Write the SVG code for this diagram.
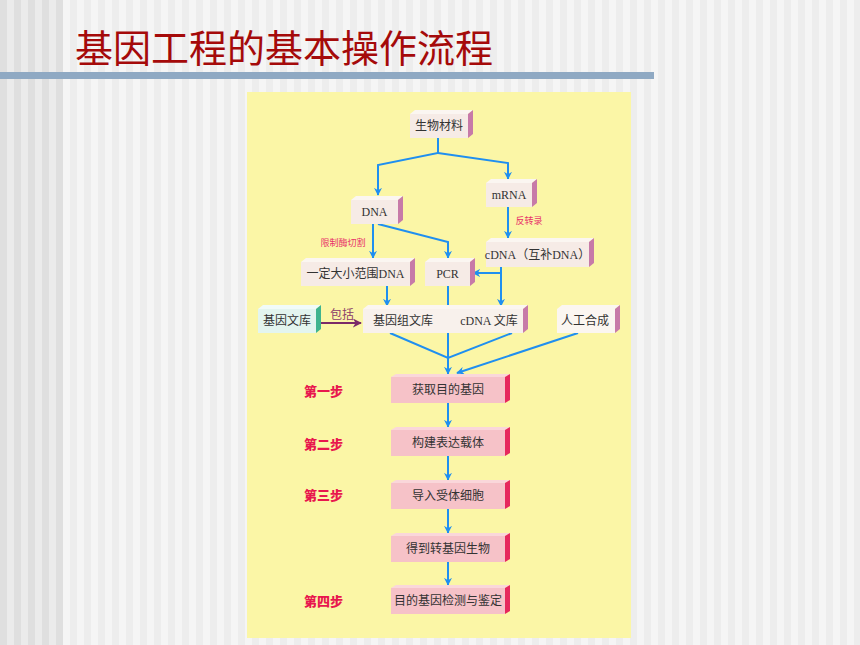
<svg xmlns="http://www.w3.org/2000/svg" width="860" height="645" viewBox="0 0 860 645">
<defs>
<pattern id="stripes" x="0" y="0" width="14" height="10" patternUnits="userSpaceOnUse">
<rect x="0" y="0" width="7" height="10" fill="#ededed"/>
<rect x="7" y="0" width="7" height="10" fill="#f5f5f5"/>
</pattern>
<pattern id="stripesDark" x="0" y="0" width="14" height="10" patternUnits="userSpaceOnUse">
<rect x="0" y="0" width="7" height="10" fill="#dfdfdf"/>
<rect x="7" y="0" width="7" height="10" fill="#ebebeb"/>
</pattern>
<marker id="ab" viewBox="0 0 10 10" refX="9" refY="5" markerWidth="8" markerHeight="9" markerUnits="userSpaceOnUse" orient="auto">
<path d="M0,0 L10,5 L0,10 L3,5 z" fill="#1f8ff0"/>
</marker>
<marker id="ap" viewBox="0 0 10 10" refX="9" refY="5" markerWidth="9" markerHeight="9" markerUnits="userSpaceOnUse" orient="auto">
<path d="M0,0 L10,5 L0,10 L3,5 z" fill="#7a2a68"/>
</marker>
</defs>
<style>
.front{fill:#f6ebe6}
.top{fill:#fbf6f1}
.side{fill:#c77aa8}
.cfront{fill:#e3f5ef}
.ctop{fill:#f1fbf8}
.cside{fill:#3fb48e}
.sfront{fill:#f6c2c8}
.stop{fill:#fad7da}
.sside{fill:#e6285d}
.t{font-family:"Liberation Serif","Noto Sans CJK SC",serif;font-size:12px;fill:#333;text-anchor:middle;dominant-baseline:central}
.step{font-family:"Noto Sans CJK SC",sans-serif;font-size:13px;font-weight:900;fill:#e8174e;dominant-baseline:central}
.lbl{font-family:"Noto Sans CJK SC",sans-serif;font-size:9px;fill:#e8306a;text-anchor:middle;dominant-baseline:central}
.inc{font-family:"Noto Sans CJK SC",sans-serif;font-size:12px;fill:#8b3c6a;dominant-baseline:central}
.c{fill:none;stroke:#1f8ff0;stroke-width:2}
</style>

<rect x="0" y="0" width="860" height="645" fill="url(#stripes)"/>
<rect x="0" y="0" width="63" height="645" fill="url(#stripesDark)"/>
<rect x="0" y="72" width="654" height="7" fill="#8fa9c3"/>
<text x="75" y="62" font-family="Noto Sans CJK SC, sans-serif" font-size="38" fill="#a50a0a">基因工程的基本操作流程</text>

<rect x="247" y="92" width="384" height="546" fill="#fbf6a6"/>

<g id="connectors">
<path class="c" d="M438,138 L438,153 L378,165 L378,195" marker-end="url(#ab)"/>
<path class="c" d="M438,153 L508,163 L508,179" marker-end="url(#ab)"/>
<path class="c" d="M508,207 L508,238" marker-end="url(#ab)"/>
<path class="c" d="M373,224 L373,258" marker-end="url(#ab)"/>
<path class="c" d="M378,224 L448,242 L448,258" marker-end="url(#ab)"/>
<path class="c" d="M501,267 L501,306" marker-end="url(#ab)"/>
<path class="c" d="M501,273 L473,273" marker-end="url(#ab)"/>
<path class="c" d="M387,286 L387,306" marker-end="url(#ab)"/>
<path class="c" d="M448,286 L448,306"/>
<path class="c" d="M448,306 L448,333" stroke-dasharray="2,2"/>
<path class="c" d="M448,333 L448,374" marker-end="url(#ab)"/>
<path class="c" d="M390,333 L448,358 L512,333"/>
<path class="c" d="M578,333 L457,373" marker-end="url(#ab)"/>
<path d="M321,323 L361,323" fill="none" stroke="#7a2a68" stroke-width="2" marker-end="url(#ap)"/>
<path class="c" d="M448,403 L448,427" marker-end="url(#ab)"/>
<path class="c" d="M448,456 L448,480" marker-end="url(#ab)"/>
<path class="c" d="M448,509 L448,533" marker-end="url(#ab)"/>
<path class="c" d="M448,562 L448,585" marker-end="url(#ab)"/>
</g>

<g id="n-shengwu">
<polygon class="top" points="410,114 468,114 473,110 415,110"/>
<rect class="front" x="410" y="114" width="58" height="24"/>
<polygon class="side" points="468,114 473,110 473,134 468,138"/>
<text class="t" x="439" y="126">生物材料</text>
</g>
<g id="n-dna">
<polygon class="top" points="351,200 398,200 403,196 356,196"/>
<rect class="front" x="351" y="200" width="47" height="24"/>
<polygon class="side" points="398,200 403,196 403,220 398,224"/>
<text class="t" x="374.5" y="212">DNA</text>
</g>
<g id="n-mrna">
<polygon class="top" points="486,183 532,183 537,179 491,179"/>
<rect class="front" x="486" y="183" width="46" height="24"/>
<polygon class="side" points="532,183 537,179 537,203 532,207"/>
<text class="t" x="509" y="195">mRNA</text>
</g>
<g id="n-cdna">
<polygon class="top" points="486,242 589,242 594,238 491,238"/>
<rect class="front" x="486" y="242" width="103" height="25"/>
<polygon class="side" points="589,242 594,238 594,263 589,267"/>
<text class="t" x="537.5" y="254.5">cDNA（互补DNA）</text>
</g>
<g id="n-yiding">
<polygon class="top" points="301,262 410,262 415,258 306,258"/>
<rect class="front" x="301" y="262" width="109" height="24"/>
<polygon class="side" points="410,262 415,258 415,282 410,286"/>
<text class="t" x="355.5" y="274">一定大小范围DNA</text>
</g>
<g id="n-pcr">
<polygon class="top" points="425,262 470,262 475,258 430,258"/>
<rect class="front" x="425" y="262" width="45" height="24"/>
<polygon class="side" points="470,262 475,258 475,282 470,286"/>
<text class="t" x="447.5" y="274">PCR</text>
</g>
<g id="n-jiyinwenku">
<polygon class="ctop" points="258,309 316,309 321,305 263,305"/>
<rect class="cfront" x="258" y="309" width="58" height="24"/>
<polygon class="cside" points="316,309 321,305 321,329 316,333"/>
<text class="t" x="287" y="321">基因文库</text>
</g>
<text class="inc" x="330" y="313">包括</text>
<g id="n-libs">
<polygon class="top" points="363,309 523,309 528,305 368,305"/>
<rect class="front" x="363" y="309" width="160" height="24" style="fill:#f8f1ec"/>
<polygon class="side" points="523,309 528,305 528,329 523,333"/>
<text class="t" x="403" y="321">基因组文库</text>
<text class="t" x="489" y="321">cDNA 文库</text>
</g>
<g id="n-rengong">
<polygon class="top" points="557,309 615,309 620,305 562,305"/>
<rect class="front" x="557" y="309" width="58" height="24" style="fill:#fbf6f1"/>
<polygon class="side" points="615,309 620,305 620,329 615,333"/>
<text class="t" x="585" y="321">人工合成</text>
</g>

<text class="lbl" x="343" y="242">限制酶切割</text>
<text class="lbl" x="529" y="220">反转录</text>

<g id="s1">
<polygon class="stop" points="391,377 505,377 510,374 396,374"/>
<rect class="sfront" x="391" y="377" width="114" height="26"/>
<polygon class="sside" points="505,377 510,374 510,400 505,403"/>
<text class="t" x="448" y="390">获取目的基因</text>
</g>
<g id="s2">
<polygon class="stop" points="391,430 505,430 510,427 396,427"/>
<rect class="sfront" x="391" y="430" width="114" height="26"/>
<polygon class="sside" points="505,430 510,427 510,453 505,456"/>
<text class="t" x="448" y="443">构建表达载体</text>
</g>
<g id="s3">
<polygon class="stop" points="391,483 505,483 510,480 396,480"/>
<rect class="sfront" x="391" y="483" width="114" height="26"/>
<polygon class="sside" points="505,483 510,480 510,506 505,509"/>
<text class="t" x="448" y="496">导入受体细胞</text>
</g>
<g id="s4">
<polygon class="stop" points="391,536 505,536 510,533 396,533"/>
<rect class="sfront" x="391" y="536" width="114" height="26"/>
<polygon class="sside" points="505,536 510,533 510,559 505,562"/>
<text class="t" x="448" y="549">得到转基因生物</text>
</g>
<g id="s5">
<polygon class="stop" points="391,588 505,588 510,585 396,585"/>
<rect class="sfront" x="391" y="588" width="114" height="26"/>
<polygon class="sside" points="505,588 510,585 510,611 505,614"/>
<text class="t" x="448" y="601">目的基因检测与鉴定</text>
</g>

<text class="step" x="304" y="390">第一步</text>
<text class="step" x="304" y="443">第二步</text>
<text class="step" x="304" y="494">第三步</text>
<text class="step" x="304" y="600">第四步</text>
</svg>
